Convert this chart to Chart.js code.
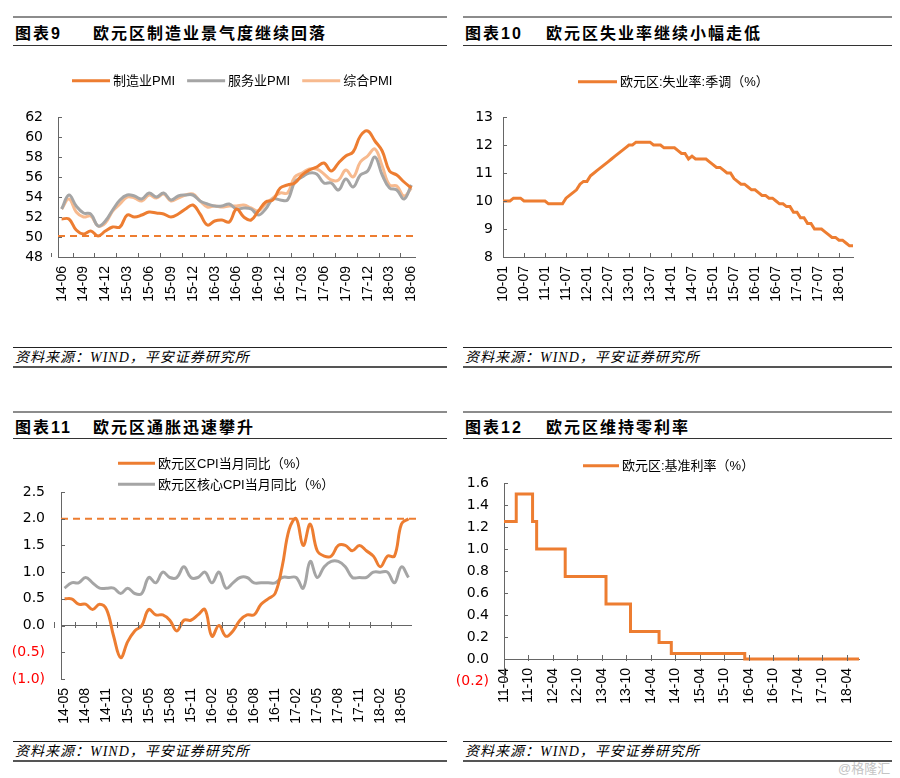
<!DOCTYPE html>
<html lang="zh">
<head>
<meta charset="UTF-8">
<title>欧元区经济指标</title>
<script src="https://cdn.jsdelivr.net/npm/chart.js@4.4.0/dist/chart.umd.min.js"></script>
<style>
  body { margin: 0; width: 900px; height: 778px; background: #fff; position: relative; overflow: hidden;
         font-family: "Liberation Sans", "Noto Sans CJK SC", sans-serif; color: #000; }
  .hd, .ft, .box { position: absolute; box-sizing: border-box; }
  .hd { border-top: 2px solid #8c8c8c; border-bottom: 1px solid #333; font-weight: bold; font-size: 16px; }
  .hd span { position: absolute; top: 50%; transform: translateY(-50%); letter-spacing: 2px; white-space: nowrap; }
  .ft { height: 21px; border-top: 1px solid #222; border-bottom: 2px solid #555; font-size: 14px; font-style: italic;
        font-family: "Liberation Serif", "Noto Sans CJK SC", serif; padding-left: 2px; line-height: 19px; letter-spacing: 1px; }
  .mark { position: absolute; left: 838px; top: 758px; font-size: 13px; color: #c4c4c4; }
</style>
</head>
<body>
  <div class="hd" style="left:13px;top:16px;width:434px;height:30px"><span style="left:2px">图表9</span><span style="left:80px">欧元区制造业景气度继续回落</span></div>
  <div class="hd" style="left:463px;top:16px;width:429px;height:30px"><span style="left:2px">图表10</span><span style="left:83px">欧元区失业率继续小幅走低</span></div>
  <div class="box" style="left:8px;top:48px;width:440px;height:298px"><canvas id="pmiChart"></canvas></div>
  <div class="box" style="left:455px;top:48px;width:440px;height:298px"><canvas id="unempChart"></canvas></div>
  <div class="ft" style="left:13px;top:347px;width:434px">资料来源：WIND，平安证券研究所</div>
  <div class="ft" style="left:463px;top:347px;width:429px">资料来源：WIND，平安证券研究所</div>

  <div class="hd" style="left:13px;top:411px;width:434px;height:28px"><span style="left:2px">图表11</span><span style="left:80px">欧元区通胀迅速攀升</span></div>
  <div class="hd" style="left:463px;top:411px;width:429px;height:28px"><span style="left:2px">图表12</span><span style="left:83px">欧元区维持零利率</span></div>
  <div class="box" style="left:8px;top:440px;width:440px;height:300px"><canvas id="cpiChart"></canvas></div>
  <div class="box" style="left:455px;top:440px;width:440px;height:300px"><canvas id="rateChart"></canvas></div>
  <div class="ft" style="left:13px;top:741px;width:434px">资料来源：WIND，平安证券研究所</div>
  <div class="ft" style="left:463px;top:741px;width:429px">资料来源：WIND，平安证券研究所</div>
  <div class="mark">@格隆汇</div>

<script>
// ---- data ----
function monthRange(start, n) {
    let [y, m] = start.split('-').map(Number);
    const out = [];
    for (let i = 0; i < n; i++) {
        out.push(String(y).padStart(2, '0') + '-' + String(m).padStart(2, '0'));
        m++;
        if (m > 12) { m = 1; y++; }
    }
    return out;
}

// 图表9: 14-06 .. 18-06
const pmiMonths = monthRange('14-06', 49);
const pmiManufacturing = [51.8, 51.8, 50.7, 50.3, 50.6, 50.1, 50.6,
    51.0, 51.0, 52.2, 52.0, 52.2, 52.5, 52.4, 52.3, 52.0, 52.3, 52.8, 53.2,
    52.3, 51.2, 51.6, 51.7, 51.5, 52.8, 52.0, 51.7, 52.6, 53.5, 53.7, 54.9,
    55.2, 55.4, 56.2, 56.7, 57.0, 57.4, 56.6, 57.4, 58.1, 58.5, 60.1, 60.6,
    59.6, 58.6, 56.6, 56.2, 55.5, 54.9];
const pmiServices = [52.8, 54.2, 53.1, 52.4, 52.3, 51.1, 51.6,
    52.7, 53.7, 54.2, 54.1, 53.8, 54.4, 54.0, 54.4, 53.7, 54.1, 54.2, 54.2,
    53.6, 53.3, 53.1, 53.1, 53.3, 52.8, 52.9, 52.8, 52.2, 52.8, 53.8, 53.7,
    53.7, 55.5, 56.0, 56.4, 56.3, 55.4, 55.4, 54.7, 55.8, 55.0, 56.2, 56.6,
    58.0, 56.2, 54.9, 54.7, 53.8, 55.2];
const pmiComposite = [52.8, 53.8, 52.5, 52.0, 52.1, 51.1, 51.4,
    52.6, 53.3, 54.0, 53.9, 53.6, 54.2, 53.9, 54.3, 53.6, 53.9, 54.2, 54.3,
    53.6, 53.0, 53.1, 53.0, 53.1, 53.1, 53.2, 52.9, 52.6, 53.3, 53.9, 54.4,
    54.4, 56.0, 56.4, 56.8, 56.8, 56.3, 55.7, 55.7, 56.7, 56.0, 57.5, 58.1,
    58.8, 57.1, 55.2, 55.1, 54.1, 54.9];
const pmiLine = 50.1;

// 图表10: 10-01 .. 18-05
const unempMonths = monthRange('10-01', 101);
const unempRate = [
    10.0, 10.0, 10.0, 10.1, 10.1, 10.1, 10.0, 10.0, 10.0, 10.0, 10.0, 10.0,
    10.0, 9.9, 9.9, 9.9, 9.9, 9.9, 10.1, 10.2, 10.3, 10.4, 10.6, 10.7,
    10.7, 10.9, 11.0, 11.1, 11.2, 11.3, 11.4, 11.5, 11.6, 11.7, 11.8, 11.9,
    12.0, 12.0, 12.1, 12.1, 12.1, 12.1, 12.1, 12.0, 12.0, 12.0, 11.9, 11.9,
    11.9, 11.9, 11.8, 11.7, 11.7, 11.5, 11.6, 11.5, 11.5, 11.5, 11.5, 11.4,
    11.3, 11.2, 11.2, 11.1, 11.0, 11.0, 10.8, 10.7, 10.6, 10.6, 10.5, 10.4,
    10.4, 10.3, 10.2, 10.2, 10.1, 10.1, 10.0, 9.9, 9.9, 9.8, 9.8, 9.6,
    9.6, 9.4, 9.4, 9.2, 9.2, 9.0, 9.0, 9.0, 8.9, 8.8, 8.7, 8.7,
    8.6, 8.6, 8.5, 8.4, 8.4];

// 图表11: 14-05 .. 18-06
const cpiMonths = monthRange('14-05', 50);
const cpiHeadline = [0.5, 0.5, 0.4, 0.4, 0.3, 0.4, 0.3, -0.2,
    -0.6, -0.3, -0.1, 0.0, 0.3, 0.2, 0.2, 0.1, -0.1, 0.1, 0.1, 0.2,
    0.3, -0.2, 0.0, -0.2, -0.1, 0.1, 0.2, 0.2, 0.4, 0.5, 0.6, 1.1,
    1.8, 2.0, 1.5, 1.9, 1.4, 1.3, 1.3, 1.5, 1.5, 1.4, 1.5, 1.4,
    1.3, 1.1, 1.3, 1.3, 1.9, 2.0];
const cpiCore = [0.7, 0.8, 0.8, 0.9, 0.8, 0.7, 0.7, 0.7,
    0.6, 0.7, 0.6, 0.6, 0.9, 0.8, 1.0, 0.9, 0.9, 1.1, 0.9, 0.9,
    1.0, 0.8, 1.0, 0.7, 0.8, 0.9, 0.9, 0.8, 0.8, 0.8, 0.8, 0.9,
    0.9, 0.9, 0.7, 1.2, 0.9, 1.1, 1.2, 1.2, 1.1, 0.9, 0.9, 0.9,
    1.0, 1.0, 1.0, 0.8, 1.1, 0.9];
const cpiTarget = 2.0;

// 图表12: 11-04 .. 18-07
const rateMonths = monthRange('11-04', 88);
const policyRate = [1.25, 1.25, 1.25, 1.5, 1.5, 1.5, 1.5, 1.25, 1.0,
    1.0, 1.0, 1.0, 1.0, 1.0, 1.0, 0.75, 0.75, 0.75, 0.75, 0.75, 0.75,
    0.75, 0.75, 0.75, 0.75, 0.5, 0.5, 0.5, 0.5, 0.5, 0.5, 0.25, 0.25,
    0.25, 0.25, 0.25, 0.25, 0.25, 0.15, 0.15, 0.15, 0.05, 0.05, 0.05, 0.05,
    0.05, 0.05, 0.05, 0.05, 0.05, 0.05, 0.05, 0.05, 0.05, 0.05, 0.05, 0.05,
    0.05, 0.05, 0, 0, 0, 0, 0, 0, 0, 0, 0, 0,
    0, 0, 0, 0, 0, 0, 0, 0, 0, 0, 0, 0,
    0, 0, 0, 0, 0, 0, 0];

// ---- style ----
const ORANGE = '#ED7D31';
const GREY = '#A5A5A5';
const PEACH = '#F7BA8F';
const AXIS = '#666666';

Chart.defaults.font.family = '"Liberation Sans", "Noto Sans CJK SC", sans-serif';
Chart.defaults.color = '#000';

// legend drawn as a line sample + label, from the datasets
const lineLegend = {
    id: 'lineLegend',
    afterDraw(chart, args, o) {
        const ctx = chart.ctx;
        ctx.save();
        ctx.font = '13px "Liberation Sans", "Noto Sans CJK SC", sans-serif';
        ctx.textBaseline = 'middle';
        let x = o.x, y = o.y;
        chart.data.datasets.forEach(ds => {
            ctx.strokeStyle = ds.borderColor;
            ctx.lineWidth = 3;
            ctx.beginPath();
            ctx.moveTo(x, y);
            ctx.lineTo(x + o.lineLen, y);
            ctx.stroke();
            ctx.fillStyle = '#000';
            ctx.fillText(ds.label, x + o.lineLen + 3, y + 1);
            if (o.vertical) y += o.rowGap;
            else x += o.lineLen + 3 + ctx.measureText(ds.label).width + o.itemGap;
        });
        ctx.restore();
    }
};

// small inward tick marks like the original Excel axes
const tickMarks = {
    id: 'tickMarks',
    afterDraw(chart, args, o) {
        const {ctx, scales: {x, y}} = chart;
        ctx.save();
        ctx.strokeStyle = AXIS;
        ctx.lineWidth = 1;
        ctx.beginPath();
        y.ticks.forEach((t, i) => {
            const py = Math.round(y.getPixelForTick(i)) + 0.5;
            ctx.moveTo(y.right, py);
            ctx.lineTo(y.right + 4, py);
        });
        const base = o.xAt != null ? Math.round(y.getPixelForValue(o.xAt)) : chart.chartArea.bottom;
        const half = x.options.offset ? (x.getPixelForTick(1) - x.getPixelForTick(0)) / 2 : 0;
        x.ticks.forEach((t, i) => {
            if (t.label == null) return;
            const px = Math.round(x.getPixelForTick(i) - half) + 0.5;
            ctx.moveTo(px, base + (o.below || 0));
            ctx.lineTo(px, base - 4);
        });
        ctx.stroke();
        ctx.restore();
    }
};

// dashed reference line at a given value
const refLine = {
    id: 'refLine',
    beforeDatasetsDraw(chart, args, o) {
        if (o.value == null) return;
        const {ctx, chartArea, scales: {y}} = chart;
        const py = y.getPixelForValue(o.value);
        ctx.save();
        ctx.strokeStyle = ORANGE;
        ctx.lineWidth = 2;
        ctx.setLineDash([7, 5]);
        ctx.beginPath();
        ctx.moveTo(chartArea.left, py);
        ctx.lineTo(chartArea.right + (o.extend || 0), py);
        ctx.stroke();
        ctx.restore();
    }
};

function xAxis(step, offset, height, extra) {
    return Object.assign({
        type: 'category',
        offset: offset,
        border: { display: true, color: AXIS },
        grid: { display: false, drawTicks: false },
        ticks: {
            autoSkip: false, maxRotation: 90, minRotation: 90, padding: 9,
            font: { size: 14 },
            callback(v, i) { return i % step === 0 ? this.getLabelForValue(v) : null; }
        },
        afterFit(s) { s.height = height; }
    }, extra || {});
}

function yAxis(min, max, stepSize, width, pad, fmt, extra) {
    return Object.assign({
        min: min, max: max,
        border: { display: true, color: AXIS },
        grid: { display: false, drawTicks: false },
        ticks: {
            stepSize: stepSize, padding: pad,
            font: { family: '"DejaVu Sans", sans-serif', size: 14 },
            callback: fmt,
            color: c => c.tick.value < -1e-9 ? '#FF0000' : '#000'
        },
        afterFit(s) { s.width = width; }
    }, extra || {});
}

const neg1 = v => v < -1e-9 ? '(' + Math.abs(v).toFixed(1) + ')' : v.toFixed(1);

function baseOptions(padding, scales, plugins) {
    return {
        animation: false,
        responsive: true,
        maintainAspectRatio: false,
        events: [],
        layout: { padding: padding },
        elements: { point: { radius: 0 }, line: { borderWidth: 3 } },
        scales: scales,
        plugins: Object.assign({ legend: { display: false }, tooltip: { enabled: false } }, plugins)
    };
}

const plugins = [lineLegend, tickMarks, refLine];

// 图表9
new Chart(document.getElementById('pmiChart'), {
    type: 'line',
    data: {
        labels: pmiMonths,
        datasets: [
            { label: '制造业PMI', data: pmiManufacturing, borderColor: ORANGE, tension: 0.4 },
            { label: '服务业PMI', data: pmiServices, borderColor: GREY, tension: 0.4 },
            { label: '综合PMI', data: pmiComposite, borderColor: PEACH, tension: 0.4 }
        ]
    },
    options: baseOptions({ left: 0, top: 69, right: 33, bottom: 0 }, {
        x: xAxis(3, true, 89),
        y: yAxis(48, 62, 2, 50, 15, v => v)
    }, {
        lineLegend: { x: 64, y: 32.7, lineLen: 38, itemGap: 12 },
        tickMarks: {},
        refLine: { value: pmiLine }
    }),
    plugins: plugins
});

// 图表10
new Chart(document.getElementById('unempChart'), {
    type: 'line',
    data: {
        labels: unempMonths,
        datasets: [
            { label: '欧元区:失业率:季调（%）', data: unempRate, borderColor: ORANGE, tension: 0 }
        ]
    },
    options: baseOptions({ left: 0, top: 69, right: 42, bottom: 0 }, {
        x: xAxis(6, false, 89),
        y: yAxis(8, 13, 1, 48, 10, v => v)
    }, {
        lineLegend: { x: 123, y: 33.7, lineLen: 39, itemGap: 12 },
        tickMarks: {},
        refLine: {}
    }),
    plugins: plugins
});

// 图表11
new Chart(document.getElementById('cpiChart'), {
    type: 'line',
    data: {
        labels: cpiMonths,
        datasets: [
            { label: '欧元区CPI当月同比（%）', data: cpiHeadline, borderColor: ORANGE, tension: 0.4 },
            { label: '欧元区核心CPI当月同比（%）', data: cpiCore, borderColor: GREY, tension: 0.4 }
        ]
    },
    options: baseOptions({ left: 0, top: 52, right: 36, bottom: 0 }, {
        x: xAxis(3, true, 61, { border: { display: false } }),
        y: yAxis(-1, 2.5, 0.5, 53, 16, neg1, {
            grid: { display: true, drawTicks: false, lineWidth: 1,
                    color: c => Math.abs(c.tick.value) < 1e-9 ? AXIS : 'rgba(0,0,0,0)' }
        })
    }, {
        lineLegend: { x: 110, y: 23.3, lineLen: 37, vertical: true, rowGap: 21 },
        tickMarks: { xAt: 0, below: 2 },
        refLine: { value: cpiTarget, extend: 6 }
    }),
    plugins: plugins
});

// 图表12 (x axis sits on the zero line, so its height is not reserved; pad instead)
new Chart(document.getElementById('rateChart'), {
    type: 'line',
    data: {
        labels: rateMonths,
        datasets: [
            { label: '欧元区:基准利率（%）', data: policyRate, borderColor: ORANGE, stepped: true }
        ]
    },
    options: baseOptions({ left: 0, top: 43, right: 36, bottom: 59 }, {
        x: xAxis(6, false, 61, { position: { y: 0 } }),
        y: yAxis(-0.2, 1.6, 0.2, 49, 15, neg1)
    }, {
        lineLegend: { x: 128, y: 25.7, lineLen: 36, itemGap: 12 },
        tickMarks: { xAt: 0, below: 2 },
        refLine: {}
    }),
    plugins: plugins
});
</script>
</body>
</html>
